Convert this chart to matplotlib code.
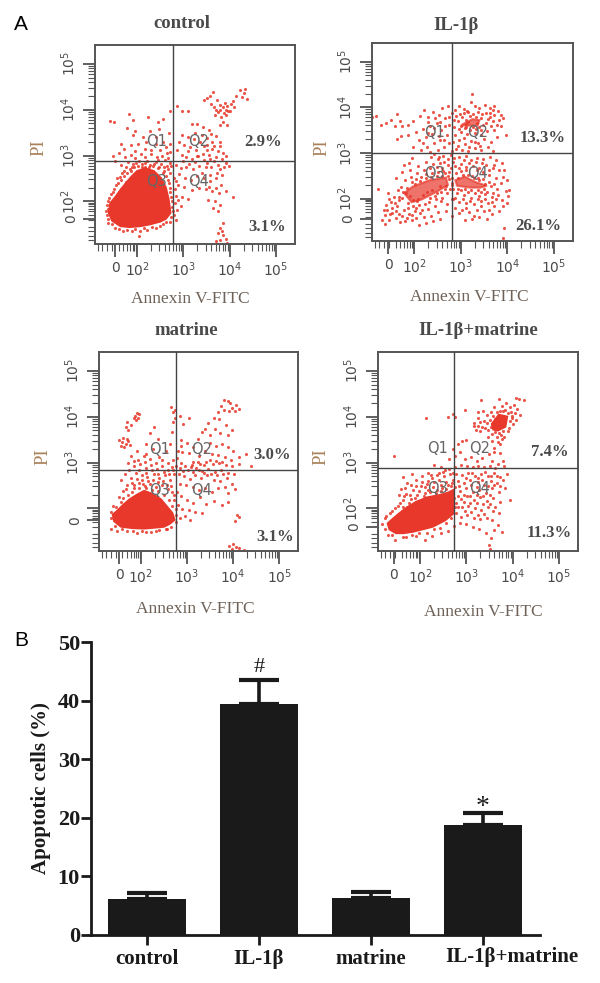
#!/usr/bin/env python
import matplotlib
matplotlib.use("Agg")
import matplotlib.pyplot as plt

W, H = 600.0, 983.0

# flow panels, points and outlines in decades (2 = 10^2, 3 = 10^3 ...)
control_core_x = [1.39, 1.42, 1.52, 1.62, 1.76, 1.88, 2.0, 2.18, 2.36, 2.52, 2.62, 2.68, 2.72, 2.62, 2.50, 2.28, 2.07, 1.84, 1.64, 1.46]
control_core_y = [1.75, 1.96, 2.08, 2.22, 2.40, 2.54, 2.66, 2.72, 2.66, 2.50, 2.30, 2.04, 1.75, 1.62, 1.56, 1.50, 1.46, 1.44, 1.46, 1.58]
control_pts = [
    (3.51,4.25),(3.45,4.22),(3.58,4.30),(3.64,4.38),(3.72,4.20),(3.60,4.12),(3.66,4.05),(3.78,4.10),(3.85,4.05),(3.90,4.15),
    (3.95,4.08),(4.02,4.12),(4.08,4.18),(4.14,4.30),(4.22,4.42),(4.30,4.36),(4.38,4.24),(4.26,4.28),(4.34,4.45),(4.10,4.06),
    (3.96,3.98),(3.88,3.92),(3.74,3.94),(3.68,3.88),(3.82,3.85),(3.92,3.88),(4.0,3.96),(3.80,4.00),(3.70,4.0),(3.92,4.0),
    (3.86,3.72),(3.94,3.66),(3.78,3.66),(3.55,3.55),(3.42,3.62),(3.30,3.68),(3.18,3.68),(3.25,3.50),(3.40,3.45),(3.52,3.38),
    (3.62,3.30),(3.70,3.42),(3.80,3.20),(3.86,3.05),(3.74,3.10),(3.62,3.14),(3.50,3.22),(3.36,3.30),(3.22,3.36),(3.10,3.40),
    (2.98,3.44),(2.90,3.30),(3.02,3.22),(3.14,3.18),(3.28,3.12),(3.42,3.04),(3.56,3.02),(3.70,2.96),(3.84,2.92),(3.92,2.98),
    (2.86,3.12),(2.96,3.02),(3.06,2.96),(3.18,2.92),(3.30,2.98),(3.44,2.90),(3.58,2.92),(3.98,2.78),(3.88,2.76),(3.74,2.80),
    (3.60,2.76),(3.48,2.74),(3.34,2.78),(3.20,2.70),(3.06,2.76),(2.94,2.72),(2.84,2.80),(2.90,2.60),(3.04,2.52),(3.16,2.46),
    (3.30,2.56),(3.44,2.50),(3.58,2.44),(3.70,2.50),(3.82,2.36),(3.92,2.22),(4.08,2.10),(3.76,2.18),(3.62,2.22),(3.48,2.28),
    (3.34,2.30),(3.18,2.24),(3.02,2.32),(2.88,2.36),(2.84,2.12),(2.96,2.10),(3.10,2.06),(3.54,2.04),(3.68,2.00),(3.80,1.92),
    (3.74,1.80),(3.64,1.86),(2.82,1.96),(2.86,1.82),(2.80,1.70),(3.86,1.52),(3.78,1.42),(3.74,1.30),(3.86,1.26),(3.92,1.18),
    (3.80,1.16),(3.70,1.14),(3.94,1.10),(3.84,1.36),(1.04,4.06),(1.42,3.76),(1.50,3.74),(1.82,3.90),(1.90,3.78),(2.24,3.84),
    (2.44,3.72),(2.56,3.80),(2.70,3.98),(2.86,4.08),(2.96,3.96),(3.10,3.96),(1.78,3.60),(1.96,3.54),(2.12,3.40),(2.28,3.54),
    (2.40,3.40),(2.56,3.30),(2.68,3.50),(1.66,3.24),(1.86,3.22),(2.02,3.26),(2.50,3.12),(2.62,3.18),(2.72,3.26),(1.48,2.98),
    (1.60,3.06),(1.74,2.96),(1.86,3.02),(1.96,2.94),(2.08,3.04),(2.18,2.96),(2.30,3.04),(2.42,2.96),(2.54,3.00),(2.66,2.94),
    (1.52,2.88),(1.66,2.80),(1.80,2.86),(1.92,2.82),(2.04,2.88),(2.16,2.84),(2.28,2.80),(2.40,2.86),(2.52,2.82),(2.64,2.78),
    (1.72,2.66),(1.62,2.54),(1.84,2.70),(1.76,2.42),(1.54,2.36),(1.66,2.28),(1.48,2.20),(1.40,2.08),(1.34,1.92),(1.32,1.78),
    (1.36,1.62),(1.46,1.50),(1.60,1.40),(1.78,1.38),(1.96,1.40),(2.14,1.42),(2.04,1.24),(2.32,1.44),(2.50,1.46),(2.62,1.56),
    (2.74,1.66),(2.76,1.88),(2.74,2.10),(2.72,2.30),(2.66,2.46),(2.70,2.62),(2.58,2.66),(2.44,2.72),(2.26,2.74),(2.10,2.76),
]
control_rim = [
    (1.44,2.16),(1.50,2.28),(1.58,2.40),(1.66,2.46),(1.72,2.56),(1.78,2.62),(1.86,2.66),(1.94,2.74),(2.02,2.78),(2.16,2.76),
    (2.34,2.78),(2.48,2.74),(2.56,2.62),(2.62,2.56),(2.68,2.40),(2.72,2.20),(2.76,2.00),(2.78,1.80),(2.70,1.56),(2.56,1.50),
    (2.40,1.42),(2.22,1.38),(2.06,1.36),(1.88,1.36),(1.70,1.36),(1.52,1.42),(1.38,1.52),(1.34,1.70),(1.36,1.84),(1.38,2.00),
    (1.56,2.50),(1.68,2.62),(1.76,2.74),(1.88,2.76),(1.98,2.84),(2.10,2.82),(2.22,2.88),(2.36,2.82),(2.46,2.90),(2.58,2.76),
    (2.66,2.70),(2.74,2.78),(2.70,2.84),(2.60,2.90),(2.80,2.52),(2.84,2.44),(2.82,2.26),(2.88,2.04),(2.94,1.90),(2.84,1.60),
    (2.30,3.12),(2.16,3.14),(1.96,3.10),(1.72,3.14),(2.40,3.24),(2.64,3.06),(2.72,3.08),(2.20,3.30),(1.90,3.44),(2.48,3.58),
    (3.50,3.12),(3.66,3.20),(3.78,3.30),(3.60,3.46),(3.44,3.20),(3.32,3.00),(3.10,3.10),(3.00,2.88),(3.12,2.82),(3.26,2.86),
    (3.52,2.84),(3.66,2.88),(3.80,2.70),(3.92,2.84),(3.84,2.58),(3.72,2.62),(3.58,2.58),(3.40,2.62),(3.70,2.30),(3.56,2.32),
]

il1b_dense = [
    ([1.78, 1.96, 2.32, 2.68, 2.72, 2.50, 2.16, 1.94], [2.12, 2.26, 2.40, 2.46, 2.30, 2.16, 1.98, 1.92]),
    ([2.88, 3.08, 3.32, 3.56, 3.42, 3.20, 2.92], [2.40, 2.48, 2.36, 2.28, 2.24, 2.24, 2.28]),
    ([3.02, 3.25, 3.40, 3.36, 3.18, 3.02], [3.62, 3.74, 3.72, 3.60, 3.60, 3.60]),
]
il1b_pts = [
    (1.08,3.78),(1.18,3.82),(1.28,3.62),(1.40,3.66),(1.50,3.72),(1.62,3.86),(1.70,3.70),(1.58,3.58),(1.74,3.58),(1.86,3.62),
    (1.98,3.70),(2.12,3.82),(2.20,3.94),(2.30,3.78),(2.40,3.90),(2.52,3.84),(2.60,3.98),(2.72,4.04),(2.66,3.76),(2.48,3.66),
    (2.34,3.58),(2.18,3.52),(2.04,3.46),(1.86,3.40),(1.72,3.38),(1.62,3.30),(2.10,3.28),(2.24,3.36),(2.38,3.42),(2.58,3.50),
    (2.70,3.40),(2.74,3.62),(2.56,3.28),(2.42,3.22),(2.28,3.14),(2.14,3.06),(1.98,3.14),(2.34,3.02),(2.50,3.06),(2.64,3.14),
    (2.74,3.22),(2.80,3.88),(2.88,3.94),(2.96,4.02),(3.06,3.96),(3.14,3.92),(3.22,4.12),(3.24,4.30),(3.30,4.02),(3.40,3.98),
    (3.52,4.06),(3.62,3.98),(3.72,4.02),(3.80,3.92),(3.86,3.84),(3.72,3.84),(3.62,3.88),(3.58,3.74),(3.70,3.70),(3.82,3.72),
    (3.90,3.76),(3.64,3.60),(3.56,3.48),(3.72,3.50),(3.86,3.58),(3.44,3.40),(3.30,3.44),(3.14,3.42),(3.00,3.46),(2.88,3.40),
    (2.84,3.24),(2.96,3.28),(3.08,3.20),(3.22,3.26),(3.36,3.22),(3.50,3.30),(3.64,3.24),(3.78,3.36),(3.96,3.40),(2.90,3.08),
    (3.02,3.06),(3.16,3.04),(3.30,3.10),(3.44,3.06),(3.58,3.12),(3.70,3.04),(2.62,2.94),(2.72,2.86),(2.50,2.86),(2.36,2.92),
    (2.78,2.96),(2.86,2.90),(2.96,2.92),(3.10,2.94),(3.22,2.84),(3.34,2.90),(3.48,2.86),(3.62,2.92),(3.76,2.84),(3.88,2.78),
    (2.88,2.72),(3.00,2.76),(3.12,2.70),(3.26,2.72),(3.40,2.68),(3.54,2.74),(3.68,2.66),(3.82,2.62),(3.90,2.48),(3.76,2.46),
    (3.60,2.52),(3.48,2.58),(3.34,2.62),(4.00,2.40),(3.86,2.34),(3.96,2.16),(4.04,2.18),(4.00,1.90),(3.80,2.08),(3.66,2.04),
    (3.52,2.10),(3.38,2.06),(3.22,2.02),(3.06,2.08),(2.92,2.12),(2.84,1.98),(2.96,1.92),(3.12,1.90),(3.28,1.88),(3.44,1.94),
    (3.58,1.90),(3.72,1.84),(3.82,1.72),(3.66,1.66),(3.50,1.72),(3.34,1.74),(3.18,1.70),(3.02,1.76),(2.88,1.80),(3.08,1.54),
    (3.24,1.56),(3.40,1.60),(3.56,1.56),(3.92,1.36),(3.90,1.14),(2.82,2.00),(2.70,1.88),(2.58,1.94),(2.44,1.84),(2.30,1.78),
    (2.16,1.76),(2.02,1.72),(1.88,1.66),(1.74,1.62),(1.60,1.58),(1.46,1.54),(1.36,1.64),(1.30,1.52),(1.42,1.76),(1.52,1.68),
    (1.62,1.84),(1.50,1.92),(1.40,1.86),(1.56,2.04),(1.64,2.18),(1.72,2.26),(1.80,2.40),(1.92,2.48),(2.06,2.56),(2.20,2.62),
    (2.34,2.66),(2.48,2.70),(2.60,2.66),(2.72,2.74),(1.80,1.50),(1.96,1.52),(2.10,1.42),(2.20,1.60),(2.36,1.62),(2.50,1.70),
    (1.44,2.12),(1.22,2.22),(1.60,2.46),(1.74,2.58),(1.90,2.62),(1.88,2.78),(1.78,2.74),(1.96,2.88),(2.08,2.72),(2.24,2.80),
    (2.40,2.76),(2.56,2.78),(2.66,2.56),(2.74,2.42),(2.70,2.12),(2.60,2.02),(2.46,1.98),(2.32,1.92),(2.10,1.86),(1.98,1.96),
]
il1b_more = [
    (1.52,1.80),(1.60,1.72),(1.68,1.66),(1.78,1.76),(1.86,1.80),(1.94,1.64),(2.04,1.80),(2.12,1.68),(1.66,1.96),(1.58,1.90),
    (1.68,2.04),(1.76,2.14),(1.84,2.24),(1.94,2.36),(2.04,2.42),(2.14,2.48),(2.26,2.54),(2.38,2.56),(2.50,2.58),(2.62,2.60),
    (2.74,2.58),(2.80,2.34),(2.66,2.20),(2.56,2.28),(2.44,2.06),(2.34,2.02),(2.22,1.88),(2.06,1.94),(2.82,2.30),(2.90,2.56),
    (3.00,2.60),(3.12,2.62),(3.24,2.50),(3.36,2.46),(3.48,2.42),(3.60,2.36),(3.72,2.32),(3.78,2.22),(3.70,2.12),(3.56,2.14),
    (3.44,2.14),(3.30,2.12),(3.16,2.14),(3.00,2.18),(2.88,2.02),(3.04,1.98),(3.20,1.94),(3.36,1.98),(3.52,1.98),(3.66,1.92),
    (2.86,3.72),(2.90,3.80),(2.98,3.86),(3.06,3.88),(3.16,3.90),(3.26,3.86),(3.36,3.90),(3.46,3.86),(3.54,3.88),(3.54,3.66),
    (3.44,3.50),(3.32,3.52),(3.20,3.50),(3.08,3.54),(2.96,3.52),(2.86,3.56),(3.10,3.64),(3.62,3.78),(3.78,3.62),(3.70,3.94),
    (2.30,3.68),(2.44,3.76),(2.56,3.68),(2.66,3.60),(2.74,3.78),(2.42,3.54),(2.52,3.38),(2.64,3.28),(2.30,3.44),(2.18,3.22),
    (2.82,3.04),(2.94,3.16),(3.06,3.32),(3.18,3.14),(3.30,3.24),(3.42,3.16),(2.78,2.66),(2.84,2.80),(2.96,2.66),(3.06,2.84),
    (3.18,2.78),(3.32,2.80),(3.46,2.78),(3.60,2.62),(3.72,2.74),(2.64,2.80),(2.54,2.92),(2.42,2.98),(3.92,2.62),(4.02,2.06),
    (3.88,1.96),(3.76,1.98),(3.90,1.84),(3.60,1.76),(3.44,1.84),(3.28,1.62),(3.12,1.80),(2.96,1.68),(2.82,1.62),(2.68,1.72),
    (2.56,1.56),(2.40,1.50),(2.24,1.46),(2.04,1.58),(1.84,1.58),(1.70,1.48),(1.48,1.66),(1.38,1.44),(1.34,1.76),(1.46,2.00),
    (1.74,2.02),(1.82,2.12),(1.90,2.06),(1.86,1.90),(1.98,1.84),(2.08,2.00),(2.18,2.08),(2.28,2.14),(2.38,2.18),(2.48,2.12),
    (2.58,2.14),(2.68,2.28),(2.76,2.20),(2.02,2.32),(2.12,2.38),(2.24,2.44),(2.36,2.48),(2.48,2.50),(2.60,2.50),(2.72,2.50),
    (2.82,2.46),(2.94,2.46),(3.04,2.52),(3.16,2.52),(3.28,2.44),(3.40,2.40),(3.52,2.32),(3.64,2.28),(3.50,2.20),(3.36,2.18),
    (3.22,2.18),(3.08,2.20),(2.94,2.20),(2.84,2.22),(3.00,3.60),(2.94,3.70),(3.10,3.72),(3.20,3.80),(3.32,3.78),(3.44,3.76),
    (3.48,3.62),(3.40,3.56),(3.26,3.56),(3.12,3.56),(3.02,3.78),(3.16,3.68),(3.34,3.66),
]

matrine_core_x = [1.39, 1.50, 1.62, 1.76, 1.92, 2.07, 2.24, 2.43, 2.58, 2.68, 2.73, 2.62, 2.50, 2.30, 2.07, 1.82, 1.57, 1.42]
matrine_core_y = [1.86, 1.96, 2.08, 2.20, 2.30, 2.38, 2.32, 2.20, 2.02, 1.90, 1.75, 1.66, 1.60, 1.58, 1.56, 1.57, 1.60, 1.72]
matrine_pts = [
    (1.88,4.02),(1.92,4.08),(1.96,4.06),(1.84,3.96),(1.90,3.92),(1.94,3.98),(1.70,3.88),(1.68,3.78),(1.72,3.70),(1.78,3.82),
    (1.52,3.48),(1.60,3.44),(1.68,3.40),(1.72,3.46),(1.56,3.36),(1.64,3.34),(1.76,3.38),(1.70,3.52),(1.62,3.54),(2.28,3.78),
    (2.20,3.64),(2.36,3.52),(2.10,3.40),(2.26,3.30),(2.12,3.18),(1.92,3.24),(1.78,3.14),(1.94,3.06),(2.08,3.02),(2.40,3.12),
    (2.54,3.24),(2.64,3.40),(2.68,3.66),(2.70,3.88),(2.66,4.20),(2.70,4.10),(2.74,3.98),(2.74,4.14),(2.84,4.02),(2.92,3.84),
    (3.04,3.96),(2.88,3.50),(3.00,3.42),(2.90,3.22),(3.04,3.20),(3.14,3.34),(3.24,3.52),(3.32,3.66),(3.40,3.72),(3.50,3.60),
    (3.46,3.86),(3.58,3.96),(3.68,4.10),(3.74,4.24),(3.80,4.36),(3.88,4.34),(3.94,4.30),(3.98,4.18),(4.06,4.26),(4.12,4.16),
    (4.04,4.12),(3.92,4.12),(3.80,4.14),(3.70,3.94),(3.84,3.82),(3.98,3.70),(3.90,3.60),(3.72,3.64),(3.60,3.72),(3.50,3.42),
    (3.62,3.36),(3.76,3.40),(3.88,3.34),(4.00,3.24),(4.12,3.12),(4.28,3.18),(3.96,3.06),(3.82,3.12),(3.68,3.16),(3.54,3.18),
    (3.40,3.26),(3.26,3.14),(3.14,3.02),(3.28,2.96),(3.42,3.02),(3.56,2.96),(3.70,2.98),(3.84,2.94),(3.98,2.92),(4.14,2.96),
    (4.40,2.92),(2.78,3.10),(2.86,2.98),(2.96,2.92),(3.08,2.90),(3.20,2.88),(3.32,2.82),(3.46,2.86),(3.60,2.80),(3.74,2.84),
    (3.88,2.78),(4.02,2.74),(2.82,2.76),(2.94,2.70),(3.06,2.64),(3.18,2.72),(3.30,2.66),(3.44,2.72),(3.58,2.62),(3.72,2.60),
    (3.86,2.66),(3.98,2.54),(3.90,2.34),(4.04,2.42),(3.82,2.46),(3.68,2.44),(3.54,2.36),(3.40,2.44),(3.26,2.40),(3.12,2.46),
    (2.98,2.50),(2.84,2.54),(2.78,2.36),(2.88,2.26),(3.00,2.18),(3.14,2.12),(3.28,2.24),(3.42,2.10),(3.58,2.16),(3.76,2.08),
    (3.90,2.14),(2.80,2.08),(2.90,1.98),(3.04,1.96),(3.18,1.92),(3.32,1.90),(2.84,1.78),(2.96,1.84),(3.06,1.74),(4.08,1.86),
    (4.04,1.72),(4.12,1.82),(3.92,1.18),(3.98,1.12),(4.06,1.16),(4.14,1.14),(4.00,1.22),(4.24,1.10),(1.06,2.22),(1.36,1.56),
    (1.40,2.06),(1.52,2.24),(1.62,2.38),(1.70,2.52),(1.78,2.66),(1.56,2.62),(1.66,2.74),(1.74,2.84),(1.86,2.92),(1.98,2.96),
    (2.10,2.88),(2.22,2.94),(2.34,2.86),(2.46,2.92),(2.58,2.84),(2.68,2.90),(1.90,2.78),(2.02,2.72),(2.14,2.68),(2.28,2.74),
    (2.40,2.66),(2.52,2.72),(2.64,2.62),(2.72,2.74),(1.84,2.50),(1.96,2.56),(2.08,2.48),(2.20,2.54),(2.32,2.46),(2.46,2.50),
    (2.58,2.42),(2.68,2.36),(2.72,2.18),(2.76,1.98),(1.48,1.50),(1.70,1.50),(1.92,1.46),(2.12,1.48),(2.32,1.50),(2.54,1.54),
]
matrine_rim = [
    (1.36,1.78),(1.36,1.92),(1.46,2.04),(1.56,2.14),(1.62,2.22),(1.72,2.30),(1.80,2.36),(1.86,2.44),(1.96,2.44),(2.04,2.54),
    (2.12,2.44),(2.24,2.40),(2.36,2.38),(2.50,2.30),(2.60,2.18),(2.68,2.06),(2.76,1.86),(2.76,1.70),(2.66,1.60),(2.56,1.56),
    (2.40,1.52),(2.22,1.48),(2.02,1.50),(1.82,1.50),(1.60,1.54),(1.44,1.62),(1.68,2.42),(1.80,2.56),(1.92,2.64),(2.02,2.62),
    (2.16,2.60),(2.26,2.62),(2.38,2.58),(2.48,2.60),(2.56,2.52),(2.66,2.48),(2.72,2.30),(1.96,2.84),(2.10,2.78),(2.24,2.84),
    (2.36,2.76),(2.50,2.80),(2.62,2.76),(2.70,2.84),(2.76,2.92),(2.84,2.88),(2.92,2.82),(3.02,2.84),(3.14,2.80),(3.26,2.84),
    (3.38,2.78),(3.52,2.76),(3.66,2.72),(3.78,2.74),(3.10,2.94),(3.24,3.02),(3.38,2.94),(3.50,3.06),(3.64,3.04),(3.76,3.02),
    (2.06,3.14),(2.20,3.08),(2.32,3.00),(2.46,3.06),(2.58,3.00),(2.70,3.06),(2.80,3.24),(2.86,3.36),(1.84,3.04),(1.72,2.98),
]

combo_core_x = [1.30, 1.42, 1.55, 1.72, 1.91, 2.16, 2.42, 2.60, 2.72, 2.72, 2.54, 2.27, 2.04, 1.84, 1.64, 1.48, 1.34]
combo_core_y = [1.67, 1.78, 1.89, 2.02, 2.14, 2.24, 2.29, 2.34, 2.40, 1.89, 1.74, 1.60, 1.54, 1.49, 1.46, 1.46, 1.54]
combo_dense_x = [3.55, 3.70, 3.88, 3.84, 3.68, 3.58]
combo_dense_y = [3.84, 4.04, 4.00, 3.78, 3.70, 3.72]
combo_pts = [
    (1.44,3.14),(2.12,3.98),(2.60,4.00),(2.72,4.06),(2.76,4.00),(2.96,4.14),(3.00,3.50),(2.90,3.46),(2.82,3.40),(2.70,3.30),
    (2.62,3.08),(2.76,3.14),(2.86,3.22),(2.96,3.08),(3.10,3.12),(3.22,3.04),(3.34,3.10),(3.48,3.18),(3.60,3.32),(3.72,3.40),
    (3.56,3.46),(3.66,3.56),(3.74,3.60),(3.80,3.68),(3.46,3.56),(3.40,3.76),(3.30,3.88),(3.16,3.80),(3.20,3.70),(3.30,3.68),
    (3.38,3.90),(3.24,3.98),(3.16,3.86),(3.26,4.10),(3.36,4.12),(3.32,4.36),(3.44,4.04),(3.52,4.10),(3.60,4.20),(3.70,4.38),
    (3.76,4.24),(3.86,4.30),(3.94,4.20),(4.02,4.26),(4.06,4.40),(4.14,4.38),(4.24,4.36),(4.10,4.16),(4.16,4.04),(4.04,4.08),
    (3.96,4.10),(3.98,3.98),(4.08,3.92),(4.00,3.84),(3.92,3.76),(3.84,4.14),(3.72,4.12),(3.62,3.94),(3.50,3.92),(3.46,3.70),
    (3.60,3.22),(3.72,3.20),(3.56,3.04),(3.68,2.96),(3.78,3.04),(3.82,2.92),(3.62,2.88),(3.50,2.92),(3.38,2.90),(2.76,2.90),
    (2.88,2.94),(3.02,2.92),(3.14,2.90),(3.26,2.92),(2.78,2.76),(2.90,2.72),(3.04,2.78),(3.18,2.70),(3.32,2.76),(3.46,2.70),
    (3.60,2.78),(3.72,2.68),(3.88,2.76),(3.80,2.62),(3.66,2.56),(3.52,2.60),(3.38,2.52),(3.24,2.58),(3.08,2.62),(2.94,2.56),
    (2.82,2.60),(2.76,2.46),(2.86,2.38),(3.00,2.44),(3.14,2.36),(3.28,2.40),(3.42,2.34),(3.56,2.44),(3.70,2.36),(3.84,2.44),
    (3.94,2.18),(3.72,2.14),(3.58,2.22),(3.44,2.16),(3.30,2.24),(3.16,2.18),(3.02,2.26),(2.88,2.20),(2.78,2.12),(2.90,2.02),
    (3.04,2.06),(3.18,2.00),(3.32,1.96),(3.46,2.02),(3.58,1.94),(3.70,1.90),(2.78,1.90),(2.88,1.82),(3.02,1.86),(3.16,1.78),
    (3.30,1.76),(3.44,1.80),(3.56,1.74),(3.68,1.64),(3.76,1.48),(3.60,1.52),(3.52,1.36),(3.48,1.20),(3.50,1.12),(3.42,1.46),
    (3.28,1.56),(3.14,1.60),(3.00,1.66),(2.86,1.68),(2.74,1.62),(2.60,1.50),(2.44,1.46),(2.26,1.40),(2.10,1.32),(1.90,1.40),
    (1.70,1.38),(1.46,1.32),(1.30,1.42),(1.18,1.66),(1.24,1.78),(1.40,1.94),(1.52,2.06),(1.62,2.18),(1.70,2.32),(1.58,2.42),
    (1.72,2.56),(1.62,2.68),(1.84,2.40),(1.94,2.30),(2.02,2.48),(1.90,2.62),(2.04,2.70),(2.16,2.78),(2.30,2.94),(2.40,2.78),
    (2.26,2.66),(2.14,2.54),(2.28,2.46),(2.40,2.62),(2.52,2.70),(2.64,2.76),(2.72,2.62),(2.60,2.52),(2.48,2.44),(2.36,2.40),
    (2.54,2.84),(2.44,2.90),(2.18,2.40),(2.08,2.26),(1.80,2.20),(1.72,2.02),(1.60,1.94),(1.82,2.76),(2.66,2.48),(2.72,2.28),
]
combo_more = [
    (1.26,1.84),(1.34,1.90),(1.46,2.00),(1.56,2.12),(1.64,2.04),(1.76,2.12),(1.66,2.26),(1.78,2.30),(1.88,2.22),(1.98,2.38),
    (2.10,2.34),(2.22,2.36),(2.34,2.34),(2.46,2.38),(2.56,2.42),(2.68,2.56),(2.74,2.22),(2.76,2.02),(2.66,1.78),(2.56,1.68),
    (2.42,1.58),(2.30,1.54),(2.14,1.46),(1.98,1.46),(1.82,1.42),(1.62,1.38),(1.40,1.42),(1.24,1.56),(1.54,2.30),(1.68,2.44),
    (1.80,2.50),(1.92,2.48),(2.04,2.58),(2.18,2.60),(2.30,2.58),(2.44,2.52),(2.56,2.58),(2.10,2.46),(2.24,2.72),(2.36,2.72),
    (2.50,2.80),(2.62,2.86),(2.70,2.78),(3.76,3.52),(3.68,3.44),(3.62,3.66),(3.52,3.78),(3.44,3.86),(3.58,4.02),(3.66,4.10),
    (3.78,4.12),(3.90,4.08),(3.98,4.02),(3.94,3.90),(3.90,3.68),(3.82,3.56),(3.70,3.64),(3.56,3.62),(3.34,3.78),(3.24,3.80),
    (3.10,2.50),(3.22,2.46),(3.34,2.62),(3.46,2.48),(3.60,2.50),(3.72,2.48),(3.50,2.30),(3.36,2.28),(3.22,2.30),(3.08,2.26),
    (2.94,2.30),(2.82,2.28),(2.84,2.48),(2.98,2.66),(3.12,2.78),(3.26,2.66),(3.40,2.80),(3.54,2.70),(3.66,2.70),(3.36,2.10),
    (3.50,2.10),(3.62,2.04),(3.22,2.12),(3.08,2.12),(2.94,2.14),(2.82,2.02),(2.96,1.94),(3.10,1.92),(3.24,1.86),(3.38,1.88),
]

panel_titles = ["control", "IL-1β", "matrine", "IL-1β+matrine"]
panel_q2 = ["2.9%", "13.3%", "3.0%", "7.4%"]
panel_q4 = ["3.1%", "26.1%", "3.1%", "11.3%"]
panel_xzero = [1.53, 1.44, 1.53, 1.43]
panel_yzero = [1.62, 1.56, 1.74, 1.60]
panel_vline = [2.78, 2.80, 2.76, 2.74]
panel_hline = [2.87, 3.00, 2.84, 2.87]
xtick_labels = ["0", "$10^2$", "$10^3$", "$10^4$", "$10^5$"]
# the matrine panel has no 10^2 label on its y axis
ytick_labels = [
    ["0", "$10^2$", "$10^3$", "$10^4$", "$10^5$"],
    ["0", "$10^2$", "$10^3$", "$10^4$", "$10^5$"],
    ["0", "", "$10^3$", "$10^4$", "$10^5$"],
    ["0", "$10^2$", "$10^3$", "$10^4$", "$10^5$"],
]

# pixel spots of the loose panel texts
title_xy = [(182, 23), (456, 26), (186, 330), (478, 330)]
xlabel_xy = [(190, 299), (469, 297), (195, 609), (483, 612)]
ylabel_xy = [(39, 148), (322, 148), (43, 457), (321, 457)]
q2_xy = [(263, 142), (543, 138), (272, 455), (550, 452)]
q4_xy = [(267, 227), (538, 226), (275, 537), (549, 533)]

# bar panel
groups = ["control", "IL-1β", "matrine", "IL-1β+matrine"]
apoptotic = [6.1, 39.5, 6.3, 18.8]
apoptotic_err = [1.0, 4.1, 1.0, 2.0]
marks = ["", "#", "", "*"]

RED = "#e8382b"
GREY = "#4a4a4a"
SERIF = "Liberation Serif"


def axes_px(left, top, right, bottom):
    return fig.add_axes([left / W, 1 - bottom / H, (right - left) / W, (bottom - top) / H])


def text_px(xy, s, **kw):
    fig.text(xy[0] / W, 1 - xy[1] / H, s, ha="center", va="center", zorder=6, **kw)


def draw_panel(box, idx, pts, blobs, blob_alpha):
    ax = axes_px(*box)
    ax.set_xlim(1.09, 5.41)
    ax.set_ylim(1.07, 5.41)
    for bx, by in blobs:
        ax.fill(bx, by, color=RED, lw=1.5, alpha=blob_alpha, zorder=1)
    ax.scatter([p[0] for p in pts], [p[1] for p in pts], s=5, color=RED, lw=0, alpha=0.85, zorder=2)
    ax.axvline(panel_vline[idx], color="#444444", lw=1.0, zorder=3)
    ax.axhline(panel_hline[idx], color="#444444", lw=1.0, zorder=3)

    dense = [1.15, 1.25, 1.35, 1.45, 1.6, 1.7, 1.78, 1.84, 1.9, 1.94, 1.97]
    logs = [0.301, 0.477, 0.602, 0.699, 0.778, 0.845, 0.903, 0.954]
    minor = dense + [d + v for d in (2, 3, 4) for v in logs]
    ax.set_xticks([panel_xzero[idx], 2, 3, 4, 5])
    ax.set_xticklabels(xtick_labels, fontsize=10, color=GREY)
    ax.set_xticks(minor, minor=True)
    ax.set_yticks([panel_yzero[idx], 2, 3, 4, 5])
    ax.set_yticklabels(ytick_labels[idx], fontsize=10, color=GREY, rotation=90, va="center")
    ax.set_yticks(minor, minor=True)
    ax.tick_params(which="major", length=9, width=1.2, color="#444444", pad=3)
    ax.tick_params(which="minor", length=5, width=0.8, color="#555555")
    for s in ax.spines.values():
        s.set_linewidth(1.4)
        s.set_color("#555555")

    vx, hy = panel_vline[idx], panel_hline[idx]
    for name, tx, ty in [("Q1", vx - 0.36, hy + 0.44), ("Q2", vx + 0.55, hy + 0.44),
                         ("Q3", vx - 0.36, hy - 0.44), ("Q4", vx + 0.55, hy - 0.44)]:
        ax.text(tx, ty, name, ha="center", va="center", fontsize=10.5, color="#666666", zorder=4)

    text_px(q2_xy[idx], panel_q2[idx], fontsize=12, family=SERIF, weight="bold", color=GREY)
    text_px(q4_xy[idx], panel_q4[idx], fontsize=12, family=SERIF, weight="bold", color=GREY)
    text_px(title_xy[idx], panel_titles[idx], fontsize=13.5, family=SERIF, weight="bold", color=GREY)
    text_px(xlabel_xy[idx], "Annexin V-FITC", fontsize=12.5, family=SERIF, color="#6e6258")
    text_px(ylabel_xy[idx], "PI", rotation=90, fontsize=13.5, family=SERIF, color="#a9825a")
    return ax


fig = plt.figure(figsize=(6.0, 9.83), dpi=100)

draw_panel((95, 45, 295, 244), 0, control_pts + control_rim, [(control_core_x, control_core_y)], 1.0)
draw_panel((372, 43, 573, 241), 1, il1b_pts + il1b_more, il1b_dense, 0.7)
draw_panel((99, 352, 298, 551), 2, matrine_pts + matrine_rim, [(matrine_core_x, matrine_core_y)], 1.0)
draw_panel((378, 352, 578, 551), 3, combo_pts + combo_more,
           [(combo_core_x, combo_core_y), (combo_dense_x, combo_dense_y)], 1.0)

ax = axes_px(91, 642, 540, 935)
xs = list(range(len(groups)))
ax.bar(xs, apoptotic, width=0.70, color="#1a1a1a", zorder=2)
ax.errorbar(xs, apoptotic, yerr=[[0] * 4, apoptotic_err], fmt="none", ecolor="#1a1a1a",
            elinewidth=2.6, capsize=14.5, capthick=3.0, zorder=1)
ax.set_xlim(-0.5, 3.51)
ax.set_ylim(0, 50)
for x, v, e, m, fs, dy in zip(xs, apoptotic, apoptotic_err, marks, [0, 16, 0, 20], [0, 0.5, 0, -1.2]):
    if m:
        ax.text(x, v + e + dy, m, ha="center", va="bottom", fontsize=fs,
                family=SERIF, color="#1a1a1a")
ax.set_xticks(xs)
# last group name sits to the right of its tick, so it is placed by hand
ax.set_xticklabels(groups[:-1] + [""], fontsize=15, family=SERIF, weight="bold", color="#1a1a1a")
ax.annotate(groups[-1], xy=(xs[-1], 0), xycoords=("data", "axes fraction"), xytext=(21, -16),
            textcoords="offset points", ha="center", va="center", annotation_clip=False,
            fontsize=15, family=SERIF, weight="bold", color="#1a1a1a")
ax.set_yticks([0, 10, 20, 30, 40, 50])
ax.set_yticklabels(["0", "10", "20", "30", "40", "50"], fontsize=16, family=SERIF,
                   weight="bold", color="#1a1a1a")
ax.tick_params(length=7, width=2, color="#1a1a1a", pad=3)
ax.tick_params(axis="y", pad=1)
ax.spines["top"].set_visible(False)
ax.spines["right"].set_visible(False)
ax.spines["left"].set_linewidth(2)
ax.spines["bottom"].set_linewidth(2)
ax.spines["left"].set_color("#1a1a1a")
ax.spines["bottom"].set_color("#1a1a1a")
ax.set_ylabel("Apoptotic cells (%)", fontsize=15, family=SERIF, weight="bold",
              color="#1a1a1a", labelpad=5)

fig.text(14 / W, 1 - 25 / H, "A", fontsize=15, ha="left", va="center", family="Liberation Sans")
fig.text(14 / W, 1 - 640 / H, "B", fontsize=15, ha="left", va="center", family="Liberation Sans")

fig.savefig("out.png", dpi=100)
